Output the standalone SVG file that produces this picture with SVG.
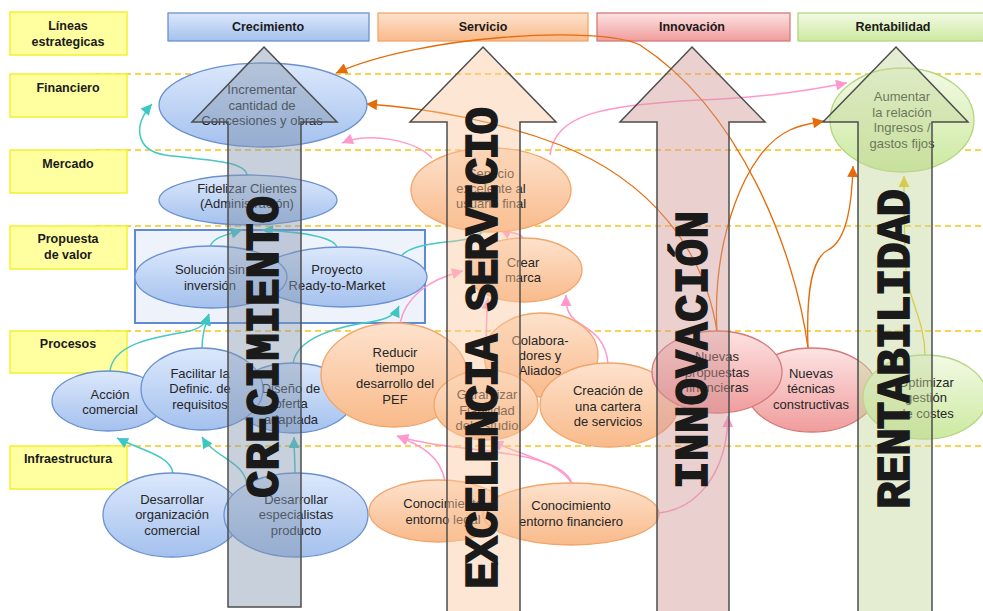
<svg xmlns="http://www.w3.org/2000/svg" width="983" height="611" viewBox="0 0 983 611">
  <defs>
    <linearGradient id="gBlue" x1="0" y1="0" x2="0" y2="1">
      <stop offset="0" stop-color="#dce8fc"/>
      <stop offset="1" stop-color="#a4c1ee"/>
    </linearGradient>
    <linearGradient id="gOrange" x1="0" y1="0" x2="0" y2="1">
      <stop offset="0" stop-color="#fde2cd"/>
      <stop offset="1" stop-color="#f9ba8a"/>
    </linearGradient>
    <linearGradient id="gRed" x1="0" y1="0" x2="0" y2="1">
      <stop offset="0" stop-color="#fde3e3"/>
      <stop offset="1" stop-color="#f09c9c"/>
    </linearGradient>
    <linearGradient id="gGreen" x1="0" y1="0" x2="0" y2="1">
      <stop offset="0" stop-color="#f3fae6"/>
      <stop offset="1" stop-color="#cce99f"/>
    </linearGradient>
    <marker id="mTeal" viewBox="0 0 10 10" refX="10" refY="5" markerWidth="12" markerHeight="11" markerUnits="userSpaceOnUse" orient="auto">
      <path d="M0,0 L10,5 L0,10 Z" fill="#3cc6c4"/>
    </marker>
    <marker id="mPink" viewBox="0 0 10 10" refX="10" refY="5" markerWidth="12" markerHeight="11" markerUnits="userSpaceOnUse" orient="auto">
      <path d="M0,0 L10,5 L0,10 Z" fill="#ff99cc"/>
    </marker>
    <marker id="mOrange" viewBox="0 0 10 10" refX="10" refY="5" markerWidth="12" markerHeight="11" markerUnits="userSpaceOnUse" orient="auto">
      <path d="M0,0 L10,5 L0,10 Z" fill="#e46c0a"/>
    </marker>
    <marker id="mYellow" viewBox="0 0 10 10" refX="10" refY="5" markerWidth="12" markerHeight="11" markerUnits="userSpaceOnUse" orient="auto">
      <path d="M0,0 L10,5 L0,10 Z" fill="#e6c40c"/>
    </marker>
  </defs>
  <style>
    .lvl { stroke: #f5c518; stroke-width: 1.3; stroke-dasharray: 6 4; fill: none; }
    .lbl { fill: #ffff9f; stroke: #f2f230; stroke-width: 1.5; }
    .lbt { font-family: "Liberation Sans", Arial, sans-serif; font-size: 12.5px; font-weight: bold; fill: #1a1a1a; text-anchor: middle; }
    .hdt { font-family: "Liberation Sans", Arial, sans-serif; font-size: 12.5px; font-weight: bold; fill: #1a1a1a; text-anchor: middle; }
    .nt { font-family: "Liberation Sans", Arial, sans-serif; font-size: 13px; fill: #262626; text-anchor: middle; }
    .eb { fill: url(#gBlue); stroke: #6a91cf; stroke-width: 1.3; }
    .eo { fill: url(#gOrange); stroke: #f2a56b; stroke-width: 1.3; }
    .er { fill: url(#gRed); stroke: #d47a78; stroke-width: 1.3; }
    .eg { fill: url(#gGreen); stroke: #b3d67f; stroke-width: 1.3; }
    .teal { fill: none; stroke: #45c8c6; stroke-width: 1.5; marker-end: url(#mTeal); }
    .pink { fill: none; stroke: #ff99cc; stroke-width: 1.5; marker-end: url(#mPink); }
    .orng { fill: none; stroke: #e46c0a; stroke-width: 1.3; marker-end: url(#mOrange); }
    .yell { fill: none; stroke: #e6c40c; stroke-width: 1.3; marker-end: url(#mYellow); }
    .big { stroke: #4d4d4d; stroke-width: 1.5; }
    .bigt { font-family: "Liberation Mono", "Courier New", monospace; font-size: 46px; font-weight: bold; fill: #1a1a1a; stroke: #1a1a1a; stroke-width: 1.6; text-anchor: middle; }
  </style>

  <rect x="0" y="0" width="983" height="611" fill="#ffffff"/>

  <!-- level separators -->
  <g id="levels">
    <line class="lvl" x1="95" y1="74" x2="983" y2="74"/>
    <line class="lvl" x1="95" y1="150" x2="983" y2="150"/>
    <line class="lvl" x1="95" y1="226" x2="983" y2="226"/>
    <line class="lvl" x1="95" y1="331" x2="983" y2="331"/>
    <line class="lvl" x1="95" y1="446" x2="983" y2="446"/>
  </g>

  <!-- row labels -->
  <g id="row-lineas">
    <rect class="lbl" x="10" y="12" width="117" height="43"/>
    <text class="lbt" x="68" y="30">Líneas</text>
    <text class="lbt" x="68" y="46">estrategicas</text>
  </g>
  <g id="row-financiero">
    <rect class="lbl" x="10" y="74" width="117" height="43"/>
    <text class="lbt" x="68" y="92">Financiero</text>
  </g>
  <g id="row-mercado">
    <rect class="lbl" x="10" y="150" width="117" height="43"/>
    <text class="lbt" x="68" y="168">Mercado</text>
  </g>
  <g id="row-propuesta">
    <rect class="lbl" x="10" y="226" width="117" height="43"/>
    <text class="lbt" x="68" y="243">Propuesta</text>
    <text class="lbt" x="68" y="259">de valor</text>
  </g>
  <g id="row-procesos">
    <rect class="lbl" x="10" y="331" width="117" height="42"/>
    <text class="lbt" x="68" y="348">Procesos</text>
  </g>
  <g id="row-infra">
    <rect class="lbl" x="10" y="446" width="117" height="43"/>
    <text class="lbt" x="68" y="463">Infraestructura</text>
  </g>

  <!-- column headers -->
  <g id="hdr-crecimiento">
    <rect x="168" y="13" width="201" height="28" fill="url(#gBlue)" stroke="#6a91cf" stroke-width="1.3"/>
    <text class="hdt" x="268" y="31">Crecimiento</text>
  </g>
  <g id="hdr-servicio">
    <rect x="378" y="13" width="210" height="28" fill="url(#gOrange)" stroke="#f2a56b" stroke-width="1.3"/>
    <text class="hdt" x="483" y="31">Servicio</text>
  </g>
  <g id="hdr-innovacion">
    <rect x="597" y="13" width="193" height="28" fill="url(#gRed)" stroke="#d47a78" stroke-width="1.3"/>
    <text class="hdt" x="692" y="31">Innovación</text>
  </g>
  <g id="hdr-rentabilidad">
    <rect x="798" y="13" width="192" height="28" fill="url(#gGreen)" stroke="#b3d67f" stroke-width="1.3"/>
    <text class="hdt" x="893" y="31">Rentabilidad</text>
  </g>

  <!-- value proposition frame -->
  <rect id="frame-propuesta" x="135" y="230" width="290" height="93" fill="#eef3fb" stroke="#5e8bd5" stroke-width="2"/>

  <!-- connectors -->
  <g id="connectors">
    <!-- teal -->
    <path class="teal" d="M247,175 C245,160 200,160 165,155 C135,150 133,125 152,104"/>
    <path class="teal" d="M210,247 C212,238 225,235 242,230"/>
    <path class="teal" d="M337,247 C333,236 300,232 262,230"/>
    <path class="teal" d="M402,255 C420,238 468,246 482,232"/>
    <path class="teal" d="M110,372 C112,345 150,338 185,332 C200,329 205,325 209,314"/>
    <path class="teal" d="M202,348 C202,335 205,326 209,314"/>
    <path class="teal" d="M293,364 C296,340 330,328 370,322 C388,319 395,315 399,306"/>
    <path class="teal" d="M173,473 C170,455 140,450 117,438"/>
    <path class="teal" d="M247,485 C245,462 215,458 202,437"/>
    <path class="teal" d="M295,473 C295,460 294,450 294,437"/>
    <!-- pink -->
    <path class="pink" d="M432,158 C415,140 370,132 342,143"/>
    <path class="pink" d="M550,155 C555,115 600,105 700,100 C770,97 810,90 847,83"/>
    <path class="pink" d="M524,240 C522,232 510,234 500,229"/>
    <path class="pink" d="M400,323 C405,300 425,280 463,271"/>
    <path class="pink" d="M486,370 C486,340 486,320 488,298"/>
    <path class="pink" d="M608,364 C606,335 585,328 575,320 C568,314 566,308 566,295"/>
    <path class="pink" d="M445,481 C440,455 420,445 397,436"/>
    <path class="pink" d="M572,484 C565,458 500,452 455,447 C430,444 410,440 397,436"/>
    <path class="pink" d="M572,484 C560,462 520,455 492,441"/>
    <path class="pink" d="M659,513 C700,508 727,470 728,416"/>
    <!-- orange -->
    <path class="orng" d="M808,348 C795,250 740,110 640,45 C600,25 420,35 336,73"/>
    <path class="orng" d="M717,332 C705,250 650,180 560,145 C500,122 430,108 366,104"/>
    <path class="orng" d="M717,332 C712,240 745,150 790,130 C800,125 812,123 824,121"/>
    <path class="orng" d="M808,348 C806,290 812,258 828,250 C848,240 852,200 853,166"/>
    <!-- yellow -->
    <path class="yell" d="M925,356 C925,320 908,300 906,270 C904,240 904,210 904,176"/>
  </g>

  <!-- financial objectives -->
  <g id="n-incrementar">
    <ellipse class="eb" cx="263" cy="105" rx="104" ry="42"/>
    <text class="nt" x="262" y="94">Incrementar</text>
    <text class="nt" x="262" y="109.5">cantidad de</text>
    <text class="nt" x="262" y="125">Concesiones y obras</text>
  </g>
  <g id="n-aumentar">
    <ellipse class="eg" cx="902" cy="120" rx="72" ry="52"/>
    <text class="nt" x="902" y="100.5">Aumentar</text>
    <text class="nt" x="902" y="116.5">la relación</text>
    <text class="nt" x="902" y="131.5">Ingresos /</text>
    <text class="nt" x="902" y="147.5">gastos fijos</text>
  </g>

  <!-- market -->
  <g id="n-fidelizar">
    <ellipse class="eb" cx="248" cy="200" rx="89" ry="25"/>
    <text class="nt" x="247" y="192.5">Fidelizar  Clientes</text>
    <text class="nt" x="247" y="207.5">(Administración)</text>
  </g>
  <g id="n-servicio-excelente">
    <ellipse class="eo" cx="491" cy="190" rx="80" ry="42"/>
    <text class="nt" x="491" y="177.5">Servicio</text>
    <text class="nt" x="491" y="192.5">excelente al</text>
    <text class="nt" x="491" y="207.5">usuario final</text>
  </g>

  <!-- value proposition -->
  <g id="n-proyecto">
    <ellipse class="eb" cx="342" cy="277" rx="85" ry="30"/>
    <text class="nt" x="337" y="273.5">Proyecto</text>
    <text class="nt" x="337" y="289.5">Ready-to-Market</text>
  </g>
  <g id="n-solucion">
    <ellipse class="eb" cx="211" cy="277" rx="76" ry="31"/>
    <text class="nt" x="210" y="273.5">Solución sin</text>
    <text class="nt" x="210" y="289.5">inversión</text>
  </g>
  <g id="n-crear-marca">
    <ellipse class="eo" cx="524" cy="270" rx="58" ry="32"/>
    <text class="nt" x="523" y="266.5">Crear</text>
    <text class="nt" x="523" y="281.5">marca</text>
  </g>

  <!-- processes -->
  <g id="n-accion">
    <ellipse class="eb" cx="108" cy="401" rx="56" ry="30"/>
    <text class="nt" x="110" y="398.5">Acción</text>
    <text class="nt" x="110" y="413.5">comercial</text>
  </g>
  <g id="n-diseno">
    <ellipse class="eb" cx="293" cy="398" rx="60" ry="35"/>
    <text class="nt" x="291" y="392.5">Diseño de</text>
    <text class="nt" x="291" y="407.5">oferta</text>
    <text class="nt" x="291" y="423.5">adaptada</text>
  </g>
  <g id="n-facilitar">
    <ellipse class="eb" cx="202" cy="389" rx="61" ry="41"/>
    <text class="nt" x="200" y="377.5">Facilitar la</text>
    <text class="nt" x="200" y="392.5">Definic. de</text>
    <text class="nt" x="200" y="408.5">requisitos</text>
  </g>
  <g id="n-reducir">
    <ellipse class="eo" cx="394" cy="375" rx="73" ry="52"/>
    <text class="nt" x="395" y="356.5">Reducir</text>
    <text class="nt" x="395" y="371.5">tiempo</text>
    <text class="nt" x="395" y="387.5">desarrollo del</text>
    <text class="nt" x="395" y="403.5">PEF</text>
  </g>
  <g id="n-colaboradores">
    <ellipse class="eo" cx="541" cy="355" rx="57" ry="42"/>
    <text class="nt" x="540" y="344.5">Colabora-</text>
    <text class="nt" x="540" y="359.5">dores y</text>
    <text class="nt" x="540" y="374.5">Aliados</text>
  </g>
  <g id="n-garantizar">
    <ellipse class="eo" cx="486" cy="405" rx="52" ry="35"/>
    <text class="nt" x="487" y="398.5">Garantizar</text>
    <text class="nt" x="487" y="414.5">Fiabilidad</text>
    <text class="nt" x="487" y="429.5">del estudio</text>
  </g>
  <g id="n-creacion">
    <ellipse class="eo" cx="609" cy="405" rx="69" ry="42"/>
    <text class="nt" x="608" y="394.5">Creación de</text>
    <text class="nt" x="608" y="410.5">una cartera</text>
    <text class="nt" x="608" y="425.5">de servicios</text>
  </g>
  <g id="n-tecnicas">
    <ellipse class="er" cx="812" cy="390" rx="65" ry="42"/>
    <text class="nt" x="811" y="377.5">Nuevas</text>
    <text class="nt" x="811" y="392.5">técnicas</text>
    <text class="nt" x="811" y="408.5">constructivas</text>
  </g>
  <g id="n-propuestas">
    <ellipse class="er" cx="717" cy="372" rx="65" ry="41"/>
    <text class="nt" x="717" y="360.5">Nuevas</text>
    <text class="nt" x="717" y="376.5">propuestas</text>
    <text class="nt" x="717" y="391.5">financieras</text>
  </g>
  <g id="n-optimizar">
    <ellipse class="eg" cx="925" cy="397" rx="62" ry="42"/>
    <text class="nt" x="926" y="386.5">Optimizar</text>
    <text class="nt" x="926" y="401.5">gestión</text>
    <text class="nt" x="926" y="417.5">de costes</text>
  </g>

  <!-- infrastructure -->
  <g id="n-org-comercial">
    <ellipse class="eb" cx="172" cy="515" rx="69" ry="42"/>
    <text class="nt" x="172" y="503.5">Desarrollar</text>
    <text class="nt" x="172" y="518.5">organización</text>
    <text class="nt" x="172" y="534.5">comercial</text>
  </g>
  <g id="n-especialistas">
    <ellipse class="eb" cx="296" cy="515" rx="72" ry="42"/>
    <text class="nt" x="296" y="503.5">Desarrollar</text>
    <text class="nt" x="296" y="518.5">especialistas</text>
    <text class="nt" x="296" y="534.5">producto</text>
  </g>
  <g id="n-legal">
    <ellipse class="eo" cx="438" cy="511" rx="69" ry="31"/>
    <text class="nt" x="443" y="507.5">Conocimiento</text>
    <text class="nt" x="443" y="523.5">entorno legal</text>
  </g>
  <g id="n-financiero">
    <ellipse class="eo" cx="571" cy="514" rx="88" ry="31"/>
    <text class="nt" x="571" y="509.5">Conocimiento</text>
    <text class="nt" x="571" y="525.5">entorno financiero</text>
  </g>

  <!-- strategic line arrows -->
  <g id="line-crecimiento">
    <path class="big" d="M264,47 L337,122 L301,122 L301,607 L228,607 L228,122 L192,122 Z" fill="#8497b0" fill-opacity="0.45"/>
    <text class="bigt" transform="translate(278,347) rotate(-90)" textLength="302" lengthAdjust="spacing">CRECIMIENTO</text>
  </g>
  <g id="line-servicio">
    <path class="big" d="M483,47 L556,122 L520,122 L520,615 L447,615 L447,122 L410,122 Z" fill="#fac8a0" fill-opacity="0.45"/>
    <text class="bigt" transform="translate(497,348) rotate(-90)" textLength="482" lengthAdjust="spacing">EXCELENCIA SERVICIO</text>
  </g>
  <g id="line-innovacion">
    <path class="big" d="M692,47 L765,122 L729,122 L729,615 L657,615 L657,122 L620,122 Z" fill="#d29696" fill-opacity="0.45"/>
    <text class="bigt" transform="translate(707,350) rotate(-90)" textLength="278" lengthAdjust="spacing">INNOVACIÓN</text>
  </g>
  <g id="line-rentabilidad">
    <path class="big" d="M896,47 L968,122 L932,122 L932,615 L858,615 L858,122 L823,122 Z" fill="#c3d69b" fill-opacity="0.45"/>
    <text class="bigt" transform="translate(909,349) rotate(-90)" textLength="320" lengthAdjust="spacing">RENTABILIDAD</text>
  </g>
</svg>
